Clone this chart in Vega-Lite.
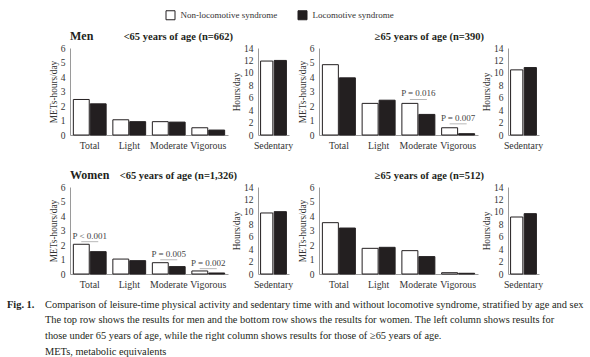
{
  "$schema": "https://vega.github.io/schema/vega-lite/v6.json",
  "background": "white",
  "padding": {"left": 7, "top": 10, "right": 0, "bottom": 0},
  "columns": 4,
  "bounds": "flush",
  "spacing": {"row": 52, "column": 30},
  "resolve": {"scale": {"x": "independent", "y": "independent", "xOffset": "independent", "color": "shared"}},
  "config": {
    "font": "Liberation Serif",
    "view": {"stroke": null},
    "axis": {"grid": false, "ticks": false, "domainColor": "#9a9a9a", "labelFont": "Liberation Serif", "titleFont": "Liberation Serif", "labelColor": "#333333", "titleColor": "#333333", "labelFontSize": 9.5, "titleFontSize": 9.3, "titleFontWeight": "normal"},
    "axisX": {"labelAngle": 0, "labelPadding": 5, "labelFontSize": 9.8},
    "axisY": {"labelPadding": 5, "titlePadding": 2},
    "title": {"font": "Liberation Serif", "fontWeight": "bold", "color": "#231f20", "baseline": "alphabetic", "frame": "group"},
    "bar": {"stroke": "#231f20", "strokeWidth": 1}
  },
  "datasets": {
    "act": [
      {"sex": "Men", "age": "<65", "activity": "Total", "group": "Non-locomotive syndrome", "value": 2.45},
      {"sex": "Men", "age": "<65", "activity": "Total", "group": "Locomotive syndrome", "value": 2.15},
      {"sex": "Men", "age": "<65", "activity": "Light", "group": "Non-locomotive syndrome", "value": 1.05},
      {"sex": "Men", "age": "<65", "activity": "Light", "group": "Locomotive syndrome", "value": 0.92},
      {"sex": "Men", "age": "<65", "activity": "Moderate", "group": "Non-locomotive syndrome", "value": 0.92},
      {"sex": "Men", "age": "<65", "activity": "Moderate", "group": "Locomotive syndrome", "value": 0.89},
      {"sex": "Men", "age": "<65", "activity": "Vigorous", "group": "Non-locomotive syndrome", "value": 0.5},
      {"sex": "Men", "age": "<65", "activity": "Vigorous", "group": "Locomotive syndrome", "value": 0.34},
      {"sex": "Men", "age": "<65", "activity": "Sedentary", "group": "Non-locomotive syndrome", "value": 11.9},
      {"sex": "Men", "age": "<65", "activity": "Sedentary", "group": "Locomotive syndrome", "value": 12.0},
      {"sex": "Men", "age": ">=65", "activity": "Total", "group": "Non-locomotive syndrome", "value": 4.85},
      {"sex": "Men", "age": ">=65", "activity": "Total", "group": "Locomotive syndrome", "value": 3.94},
      {"sex": "Men", "age": ">=65", "activity": "Light", "group": "Non-locomotive syndrome", "value": 2.18},
      {"sex": "Men", "age": ">=65", "activity": "Light", "group": "Locomotive syndrome", "value": 2.4},
      {"sex": "Men", "age": ">=65", "activity": "Moderate", "group": "Non-locomotive syndrome", "value": 2.18},
      {"sex": "Men", "age": ">=65", "activity": "Moderate", "group": "Locomotive syndrome", "value": 1.42},
      {"sex": "Men", "age": ">=65", "activity": "Vigorous", "group": "Non-locomotive syndrome", "value": 0.5},
      {"sex": "Men", "age": ">=65", "activity": "Vigorous", "group": "Locomotive syndrome", "value": 0.09},
      {"sex": "Men", "age": ">=65", "activity": "Sedentary", "group": "Non-locomotive syndrome", "value": 10.48},
      {"sex": "Men", "age": ">=65", "activity": "Sedentary", "group": "Locomotive syndrome", "value": 10.85},
      {"sex": "Women", "age": "<65", "activity": "Total", "group": "Non-locomotive syndrome", "value": 2.05},
      {"sex": "Women", "age": "<65", "activity": "Total", "group": "Locomotive syndrome", "value": 1.54},
      {"sex": "Women", "age": "<65", "activity": "Light", "group": "Non-locomotive syndrome", "value": 1.03},
      {"sex": "Women", "age": "<65", "activity": "Light", "group": "Locomotive syndrome", "value": 0.92},
      {"sex": "Women", "age": "<65", "activity": "Moderate", "group": "Non-locomotive syndrome", "value": 0.78},
      {"sex": "Women", "age": "<65", "activity": "Moderate", "group": "Locomotive syndrome", "value": 0.51},
      {"sex": "Women", "age": "<65", "activity": "Vigorous", "group": "Non-locomotive syndrome", "value": 0.21},
      {"sex": "Women", "age": "<65", "activity": "Vigorous", "group": "Locomotive syndrome", "value": 0.07},
      {"sex": "Women", "age": "<65", "activity": "Sedentary", "group": "Non-locomotive syndrome", "value": 9.82},
      {"sex": "Women", "age": "<65", "activity": "Sedentary", "group": "Locomotive syndrome", "value": 10.03},
      {"sex": "Women", "age": ">=65", "activity": "Total", "group": "Non-locomotive syndrome", "value": 3.54},
      {"sex": "Women", "age": ">=65", "activity": "Total", "group": "Locomotive syndrome", "value": 3.17},
      {"sex": "Women", "age": ">=65", "activity": "Light", "group": "Non-locomotive syndrome", "value": 1.77},
      {"sex": "Women", "age": ">=65", "activity": "Light", "group": "Locomotive syndrome", "value": 1.84},
      {"sex": "Women", "age": ">=65", "activity": "Moderate", "group": "Non-locomotive syndrome", "value": 1.61},
      {"sex": "Women", "age": ">=65", "activity": "Moderate", "group": "Locomotive syndrome", "value": 1.2},
      {"sex": "Women", "age": ">=65", "activity": "Vigorous", "group": "Non-locomotive syndrome", "value": 0.09},
      {"sex": "Women", "age": ">=65", "activity": "Vigorous", "group": "Locomotive syndrome", "value": 0.05},
      {"sex": "Women", "age": ">=65", "activity": "Sedentary", "group": "Non-locomotive syndrome", "value": 9.17},
      {"sex": "Women", "age": ">=65", "activity": "Sedentary", "group": "Locomotive syndrome", "value": 9.71}
    ],
    "pv": [
      {"sex": "Men", "age": ">=65", "activity": "Moderate", "label": "P = 0.016", "value": 2.45},
      {"sex": "Men", "age": ">=65", "activity": "Vigorous", "label": "P = 0.007", "value": 0.77},
      {"sex": "Women", "age": "<65", "activity": "Total", "label": "P < 0.001", "value": 2.23},
      {"sex": "Women", "age": "<65", "activity": "Moderate", "label": "P = 0.005", "value": 0.98},
      {"sex": "Women", "age": "<65", "activity": "Vigorous", "label": "P = 0.002", "value": 0.37}
    ],
    "cap": [
      {"line": "1", "part": "label", "text": "Fig. 1."},
      {"line": "1", "part": "body", "text": "Comparison of leisure-time physical activity and sedentary time with and without locomotive syndrome, stratified by age and sex"},
      {"line": "2", "part": "body", "text": "The top row shows the results for men and the bottom row shows the results for women. The left column shows results for"},
      {"line": "3", "part": "body", "text": "those under 65 years of age, while the right column shows results for those of ≥65 years of age."},
      {"line": "4", "part": "body", "text": "METs, metabolic equivalents"}
    ]
  },
  "concat": [
    {
      "width": 158, "height": 87,
      "title": {"text": "Men", "anchor": "start", "fontSize": 12, "offset": 0.5},
      "data": {"name": "act"},
      "transform": [{"filter": "datum.sex === 'Men' && datum.age === '<65' && datum.activity !== 'Sedentary'"}],
      "mark": "bar",
      "encoding": {
        "x": {"field": "activity", "type": "nominal", "title": null, "sort": ["Total", "Light", "Moderate", "Vigorous"], "scale": {"paddingInner": 0.17, "paddingOuter": 0.085}},
        "xOffset": {"field": "group", "type": "nominal", "sort": ["Non-locomotive syndrome", "Locomotive syndrome"], "scale": {"paddingInner": 0.06, "paddingOuter": 0}},
        "y": {"field": "value", "type": "quantitative", "scale": {"domain": [0, 6]}, "axis": {"values": [0, 1, 2, 3, 4, 5, 6], "title": "METs-hours/day"}},
        "color": {"field": "group", "type": "nominal", "scale": {"domain": ["Non-locomotive syndrome", "Locomotive syndrome"], "range": ["#ffffff", "#231f20"]}, "legend": {"orient": "none", "legendX": 95.5, "legendY": -38, "direction": "horizontal", "title": null, "symbolType": "square", "symbolSize": 81, "symbolStrokeColor": "#231f20", "symbolStrokeWidth": 1, "labelFontSize": 9, "labelFont": "Liberation Serif", "labelColor": "#333333", "columnPadding": 18, "labelOffset": 5, "padding": 0}}
      }
    },
    {
      "width": 31, "height": 87,
      "title": {"text": "<65 years of age (n=662)", "anchor": "end", "dx": -56, "fontSize": 10.5, "offset": 0.5},
      "data": {"name": "act"},
      "transform": [{"filter": "datum.sex === 'Men' && datum.age === '<65' && datum.activity === 'Sedentary'"}],
      "mark": "bar",
      "encoding": {
        "x": {"field": "activity", "type": "nominal", "title": null, "scale": {"paddingInner": 0, "paddingOuter": 0.1}},
        "xOffset": {"field": "group", "type": "nominal", "sort": ["Non-locomotive syndrome", "Locomotive syndrome"], "scale": {"paddingInner": 0.1, "paddingOuter": 0}},
        "y": {"field": "value", "type": "quantitative", "scale": {"domain": [0, 14]}, "axis": {"values": [0, 2, 4, 6, 8, 10, 12, 14], "title": "Hours/day"}},
        "color": {"field": "group", "type": "nominal", "scale": {"domain": ["Non-locomotive syndrome", "Locomotive syndrome"], "range": ["#ffffff", "#231f20"]}, "legend": {"orient": "none", "legendX": 95.5, "legendY": -38, "direction": "horizontal", "title": null, "symbolType": "square", "symbolSize": 81, "symbolStrokeColor": "#231f20", "symbolStrokeWidth": 1, "labelFontSize": 9, "labelFont": "Liberation Serif", "labelColor": "#333333", "columnPadding": 18, "labelOffset": 5, "padding": 0}}
      }
    },
    {
      "width": 159, "height": 87,
      "layer": [
        {
          "data": {"name": "act"},
          "transform": [{"filter": "datum.sex === 'Men' && datum.age === '>=65' && datum.activity !== 'Sedentary'"}],
          "mark": "bar",
          "encoding": {
            "x": {"field": "activity", "type": "nominal", "title": null, "sort": ["Total", "Light", "Moderate", "Vigorous"], "scale": {"paddingInner": 0.17, "paddingOuter": 0.085}},
            "xOffset": {"field": "group", "type": "nominal", "sort": ["Non-locomotive syndrome", "Locomotive syndrome"], "scale": {"paddingInner": 0.06, "paddingOuter": 0}},
            "y": {"field": "value", "type": "quantitative", "scale": {"domain": [0, 6]}, "axis": {"values": [0, 1, 2, 3, 4, 5, 6], "title": "METs-hours/day"}},
            "color": {"field": "group", "type": "nominal", "scale": {"domain": ["Non-locomotive syndrome", "Locomotive syndrome"], "range": ["#ffffff", "#231f20"]}, "legend": {"orient": "none", "legendX": 95.5, "legendY": -38, "direction": "horizontal", "title": null, "symbolType": "square", "symbolSize": 81, "symbolStrokeColor": "#231f20", "symbolStrokeWidth": 1, "labelFontSize": 9, "labelFont": "Liberation Serif", "labelColor": "#333333", "columnPadding": 18, "labelOffset": 5, "padding": 0}}
          }
        },
        {
          "data": {"name": "pv"},
          "transform": [{"filter": "datum.sex === 'Men' && datum.age === '>=65'"}],
          "mark": {"type": "tick", "size": 17, "thickness": 1, "color": "#9a9a9a"},
          "encoding": {
            "x": {"field": "activity", "type": "nominal", "title": null, "sort": ["Total", "Light", "Moderate", "Vigorous"]},
            "y": {"field": "value", "type": "quantitative", "scale": {"domain": [0, 6]}, "axis": {"values": [0, 1, 2, 3, 4, 5, 6], "title": "METs-hours/day"}}
          }
        },
        {
          "data": {"name": "pv"},
          "transform": [{"filter": "datum.sex === 'Men' && datum.age === '>=65'"}],
          "mark": {"type": "text", "dy": -6, "baseline": "middle", "font": "Liberation Serif", "fontSize": 9, "color": "#444444"},
          "encoding": {
            "x": {"field": "activity", "type": "nominal", "title": null, "sort": ["Total", "Light", "Moderate", "Vigorous"]},
            "y": {"field": "value", "type": "quantitative", "scale": {"domain": [0, 6]}, "axis": {"values": [0, 1, 2, 3, 4, 5, 6], "title": "METs-hours/day"}},
            "text": {"field": "label"}
          }
        }
      ]
    },
    {
      "width": 31, "height": 87,
      "title": {"text": "≥65 years of age (n=390)", "anchor": "end", "dx": -55, "fontSize": 10.5, "offset": 0.5},
      "data": {"name": "act"},
      "transform": [{"filter": "datum.sex === 'Men' && datum.age === '>=65' && datum.activity === 'Sedentary'"}],
      "mark": "bar",
      "encoding": {
        "x": {"field": "activity", "type": "nominal", "title": null, "scale": {"paddingInner": 0, "paddingOuter": 0.1}},
        "xOffset": {"field": "group", "type": "nominal", "sort": ["Non-locomotive syndrome", "Locomotive syndrome"], "scale": {"paddingInner": 0.1, "paddingOuter": 0}},
        "y": {"field": "value", "type": "quantitative", "scale": {"domain": [0, 14]}, "axis": {"values": [0, 2, 4, 6, 8, 10, 12, 14], "title": "Hours/day"}},
        "color": {"field": "group", "type": "nominal", "scale": {"domain": ["Non-locomotive syndrome", "Locomotive syndrome"], "range": ["#ffffff", "#231f20"]}, "legend": {"orient": "none", "legendX": 95.5, "legendY": -38, "direction": "horizontal", "title": null, "symbolType": "square", "symbolSize": 81, "symbolStrokeColor": "#231f20", "symbolStrokeWidth": 1, "labelFontSize": 9, "labelFont": "Liberation Serif", "labelColor": "#333333", "columnPadding": 18, "labelOffset": 5, "padding": 0}}
      }
    },
    {
      "width": 158, "height": 87,
      "title": {"text": "Women", "anchor": "start", "fontSize": 12, "offset": 0.5},
      "layer": [
        {
          "data": {"name": "act"},
          "transform": [{"filter": "datum.sex === 'Women' && datum.age === '<65' && datum.activity !== 'Sedentary'"}],
          "mark": "bar",
          "encoding": {
            "x": {"field": "activity", "type": "nominal", "title": null, "sort": ["Total", "Light", "Moderate", "Vigorous"], "scale": {"paddingInner": 0.17, "paddingOuter": 0.085}},
            "xOffset": {"field": "group", "type": "nominal", "sort": ["Non-locomotive syndrome", "Locomotive syndrome"], "scale": {"paddingInner": 0.06, "paddingOuter": 0}},
            "y": {"field": "value", "type": "quantitative", "scale": {"domain": [0, 6]}, "axis": {"values": [0, 1, 2, 3, 4, 5, 6], "title": "METs-hours/day"}},
            "color": {"field": "group", "type": "nominal", "scale": {"domain": ["Non-locomotive syndrome", "Locomotive syndrome"], "range": ["#ffffff", "#231f20"]}, "legend": {"orient": "none", "legendX": 95.5, "legendY": -38, "direction": "horizontal", "title": null, "symbolType": "square", "symbolSize": 81, "symbolStrokeColor": "#231f20", "symbolStrokeWidth": 1, "labelFontSize": 9, "labelFont": "Liberation Serif", "labelColor": "#333333", "columnPadding": 18, "labelOffset": 5, "padding": 0}}
          }
        },
        {
          "data": {"name": "pv"},
          "transform": [{"filter": "datum.sex === 'Women' && datum.age === '<65'"}],
          "mark": {"type": "tick", "size": 17, "thickness": 1, "color": "#9a9a9a"},
          "encoding": {
            "x": {"field": "activity", "type": "nominal", "title": null, "sort": ["Total", "Light", "Moderate", "Vigorous"]},
            "y": {"field": "value", "type": "quantitative", "scale": {"domain": [0, 6]}, "axis": {"values": [0, 1, 2, 3, 4, 5, 6], "title": "METs-hours/day"}}
          }
        },
        {
          "data": {"name": "pv"},
          "transform": [{"filter": "datum.sex === 'Women' && datum.age === '<65'"}],
          "mark": {"type": "text", "dy": -6, "baseline": "middle", "font": "Liberation Serif", "fontSize": 9, "color": "#444444"},
          "encoding": {
            "x": {"field": "activity", "type": "nominal", "title": null, "sort": ["Total", "Light", "Moderate", "Vigorous"]},
            "y": {"field": "value", "type": "quantitative", "scale": {"domain": [0, 6]}, "axis": {"values": [0, 1, 2, 3, 4, 5, 6], "title": "METs-hours/day"}},
            "text": {"field": "label"}
          }
        }
      ]
    },
    {
      "width": 31, "height": 87,
      "title": {"text": "<65 years of age (n=1,326)", "anchor": "end", "dx": -52, "fontSize": 10.5, "offset": 0.5},
      "data": {"name": "act"},
      "transform": [{"filter": "datum.sex === 'Women' && datum.age === '<65' && datum.activity === 'Sedentary'"}],
      "mark": "bar",
      "encoding": {
        "x": {"field": "activity", "type": "nominal", "title": null, "scale": {"paddingInner": 0, "paddingOuter": 0.1}},
        "xOffset": {"field": "group", "type": "nominal", "sort": ["Non-locomotive syndrome", "Locomotive syndrome"], "scale": {"paddingInner": 0.1, "paddingOuter": 0}},
        "y": {"field": "value", "type": "quantitative", "scale": {"domain": [0, 14]}, "axis": {"values": [0, 2, 4, 6, 8, 10, 12, 14], "title": "Hours/day"}},
        "color": {"field": "group", "type": "nominal", "scale": {"domain": ["Non-locomotive syndrome", "Locomotive syndrome"], "range": ["#ffffff", "#231f20"]}, "legend": {"orient": "none", "legendX": 95.5, "legendY": -38, "direction": "horizontal", "title": null, "symbolType": "square", "symbolSize": 81, "symbolStrokeColor": "#231f20", "symbolStrokeWidth": 1, "labelFontSize": 9, "labelFont": "Liberation Serif", "labelColor": "#333333", "columnPadding": 18, "labelOffset": 5, "padding": 0}}
      }
    },
    {
      "width": 159, "height": 87,
      "data": {"name": "act"},
      "transform": [{"filter": "datum.sex === 'Women' && datum.age === '>=65' && datum.activity !== 'Sedentary'"}],
      "mark": "bar",
      "encoding": {
        "x": {"field": "activity", "type": "nominal", "title": null, "sort": ["Total", "Light", "Moderate", "Vigorous"], "scale": {"paddingInner": 0.17, "paddingOuter": 0.085}},
        "xOffset": {"field": "group", "type": "nominal", "sort": ["Non-locomotive syndrome", "Locomotive syndrome"], "scale": {"paddingInner": 0.06, "paddingOuter": 0}},
        "y": {"field": "value", "type": "quantitative", "scale": {"domain": [0, 6]}, "axis": {"values": [0, 1, 2, 3, 4, 5, 6], "title": "METs-hours/day"}},
        "color": {"field": "group", "type": "nominal", "scale": {"domain": ["Non-locomotive syndrome", "Locomotive syndrome"], "range": ["#ffffff", "#231f20"]}, "legend": {"orient": "none", "legendX": 95.5, "legendY": -38, "direction": "horizontal", "title": null, "symbolType": "square", "symbolSize": 81, "symbolStrokeColor": "#231f20", "symbolStrokeWidth": 1, "labelFontSize": 9, "labelFont": "Liberation Serif", "labelColor": "#333333", "columnPadding": 18, "labelOffset": 5, "padding": 0}}
      }
    },
    {
      "width": 31, "height": 87,
      "title": {"text": "≥65 years of age (n=512)", "anchor": "end", "dx": -55, "fontSize": 10.5, "offset": 0.5},
      "data": {"name": "act"},
      "transform": [{"filter": "datum.sex === 'Women' && datum.age === '>=65' && datum.activity === 'Sedentary'"}],
      "mark": "bar",
      "encoding": {
        "x": {"field": "activity", "type": "nominal", "title": null, "scale": {"paddingInner": 0, "paddingOuter": 0.1}},
        "xOffset": {"field": "group", "type": "nominal", "sort": ["Non-locomotive syndrome", "Locomotive syndrome"], "scale": {"paddingInner": 0.1, "paddingOuter": 0}},
        "y": {"field": "value", "type": "quantitative", "scale": {"domain": [0, 14]}, "axis": {"values": [0, 2, 4, 6, 8, 10, 12, 14], "title": "Hours/day"}},
        "color": {"field": "group", "type": "nominal", "scale": {"domain": ["Non-locomotive syndrome", "Locomotive syndrome"], "range": ["#ffffff", "#231f20"]}, "legend": {"orient": "none", "legendX": 95.5, "legendY": -38, "direction": "horizontal", "title": null, "symbolType": "square", "symbolSize": 81, "symbolStrokeColor": "#231f20", "symbolStrokeWidth": 1, "labelFontSize": 9, "labelFont": "Liberation Serif", "labelColor": "#333333", "columnPadding": 18, "labelOffset": 5, "padding": 0}}
      }
    },
    {
      "width": 38, "height": 47,
      "data": {"name": "cap"},
      "encoding": {
        "x": {"field": "part", "type": "nominal", "scale": {"type": "point", "domain": ["label", "body"], "padding": 0}, "axis": null},
        "y": {"field": "line", "type": "ordinal", "scale": {"type": "point", "padding": 0}, "axis": null},
        "text": {"field": "text"}
      },
      "layer": [
        {
          "transform": [{"filter": "datum.part === 'label'"}],
          "mark": {"type": "text", "align": "left", "baseline": "middle", "font": "Liberation Serif", "fontSize": 10.4, "fontWeight": "bold", "color": "#231f20", "dx": -63, "dy": -21.5}
        },
        {
          "transform": [{"filter": "datum.part === 'body'"}],
          "mark": {"type": "text", "align": "left", "baseline": "middle", "font": "Liberation Serif", "fontSize": 10.4, "color": "#231f20", "dx": -63, "dy": -21.5}
        }
      ]
    }
  ]
}
